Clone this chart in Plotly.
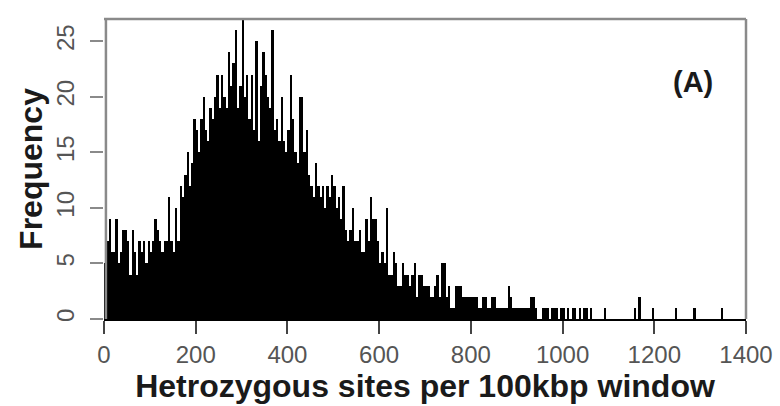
import plotly.graph_objects as go

# Histogram of heterozygous sites per 100 kbp window (bin width 5)
bin_width = 5
counts_main = [
    5, 7, 9, 6, 6, 9, 5, 6, 8, 8,        # 0-45
    7, 4, 8, 6, 4, 7, 6, 7, 5, 7,        # 50-95
    6, 7, 9, 8, 7, 6, 7, 7, 11, 7,       # 100-145
    6, 10, 7, 12, 11, 13, 15, 12, 14, 18,  # 150-195
    17, 15, 18, 20, 17, 16, 19, 18, 20, 22,  # 200-245
    19, 22, 20, 19, 24, 21, 23, 26, 19, 21,  # 250-295
    27, 20, 22, 18, 22, 17, 25, 16, 21, 24,  # 300-345
    22, 20, 19, 26, 17, 18, 16, 20, 16, 15,  # 350-395
    17, 22, 18, 15, 14, 20, 20, 15, 17, 13,  # 400-445
    12, 11, 14, 12, 11, 12, 10, 12, 11, 13,  # 450-495
    12, 10, 11, 9, 12, 8, 7, 8, 10, 7,   # 500-545
    7, 8, 6, 6, 9, 7, 11, 9, 9, 7,       # 550-595
    5, 6, 5, 10, 4, 4, 6, 5, 3, 3,       # 600-645
    5, 4, 4, 3, 4, 5, 2, 4, 4, 3,        # 650-695
    3, 3, 2, 2, 3, 4, 2, 5, 5, 2,        # 700-745
    3, 1, 1, 3, 3, 3, 2, 2, 2, 2,        # 750-795
    2, 2, 2, 1, 1, 2, 2, 1, 1, 2,        # 800-845
    2, 1, 1, 1, 1, 1, 3, 2, 1, 1,        # 850-895
    1, 1, 1, 1, 1, 1, 2, 2, 1, 0,        # 900-945
    0, 1, 1, 1, 0, 1, 1, 1, 0, 1,        # 950-995
    1, 0, 1, 0, 1, 1, 0, 1, 0, 1,        # 1000-1045
    1, 0, 1, 0,                          # 1050-1065
]
tail_bins = [1090, 1155, 1165, 1195, 1245, 1285, 1345]
tail_counts = [1, 1, 2, 1, 1, 1, 1]

x_ticks = [0, 200, 400, 600, 800, 1000, 1200, 1400]
y_ticks = [0, 5, 10, 15, 20, 25]

bin_starts = [i * bin_width for i in range(len(counts_main))] + tail_bins
counts = counts_main + tail_counts
centers = [s + bin_width / 2 for s in bin_starts]

FONT = "Liberation Sans, Arial, Helvetica, sans-serif"
GRAY = "#8a8a8a"

fig = go.Figure(go.Bar(
    x=centers, y=counts, width=bin_width,
    marker=dict(color="#000000", line=dict(width=0)),
    hoverinfo="x+y",
))

fig.update_layout(
    width=780, height=406,
    margin=dict(l=104, r=34, t=19, b=87),
    paper_bgcolor="white", plot_bgcolor="white",
    bargap=0, showlegend=False,
    font=dict(family=FONT, color="#555555"),
    xaxis=dict(
        range=[0, 1400], tickvals=x_ticks, ticktext=[str(v) for v in x_ticks],
        ticks="outside", ticklen=13, tickwidth=1.5, tickcolor="#444444",
        tickfont=dict(size=24, color="#555555"),
        showgrid=False, zeroline=False, automargin=False,
        showline=True, linecolor="#000000", linewidth=2,
        title=dict(text="<b>Hetrozygous sites per 100kbp window</b>",
                   font=dict(size=32, color="#1a1a1a"), standoff=1),
    ),
    yaxis=dict(
        range=[0, 27], tickvals=y_ticks, ticktext=[str(v) for v in y_ticks],
        ticks="outside", ticklen=13, tickwidth=1.5, tickcolor=GRAY,
        tickangle=-90, tickfont=dict(size=24, color="#555555"),
        ticklabelstandoff=6, automargin=False,
        showgrid=False, zeroline=False, showline=False,
        title=dict(text="<b>Frequency</b>",
                   font=dict(size=32, color="#1a1a1a"), standoff=0),
    ),
    shapes=[
        # plot frame: left, top, right
        dict(type="line", xref="paper", yref="paper", x0=0.003, x1=0.003, y0=0, y1=1,
             line=dict(color=GRAY, width=2.5)),
        dict(type="line", xref="paper", yref="paper", x0=0, x1=1, y0=1, y1=1,
             line=dict(color=GRAY, width=2.5)),
        dict(type="line", xref="paper", yref="paper", x0=1, x1=1, y0=0, y1=1,
             line=dict(color=GRAY, width=2.5)),
    ],
    annotations=[
        dict(text="<b>(A)</b>", xref="x", yref="y", x=1285, y=21.3,
             showarrow=False, font=dict(size=29, color="#1a1a1a", family=FONT)),
    ],
)

fig.write_html("out.html")
